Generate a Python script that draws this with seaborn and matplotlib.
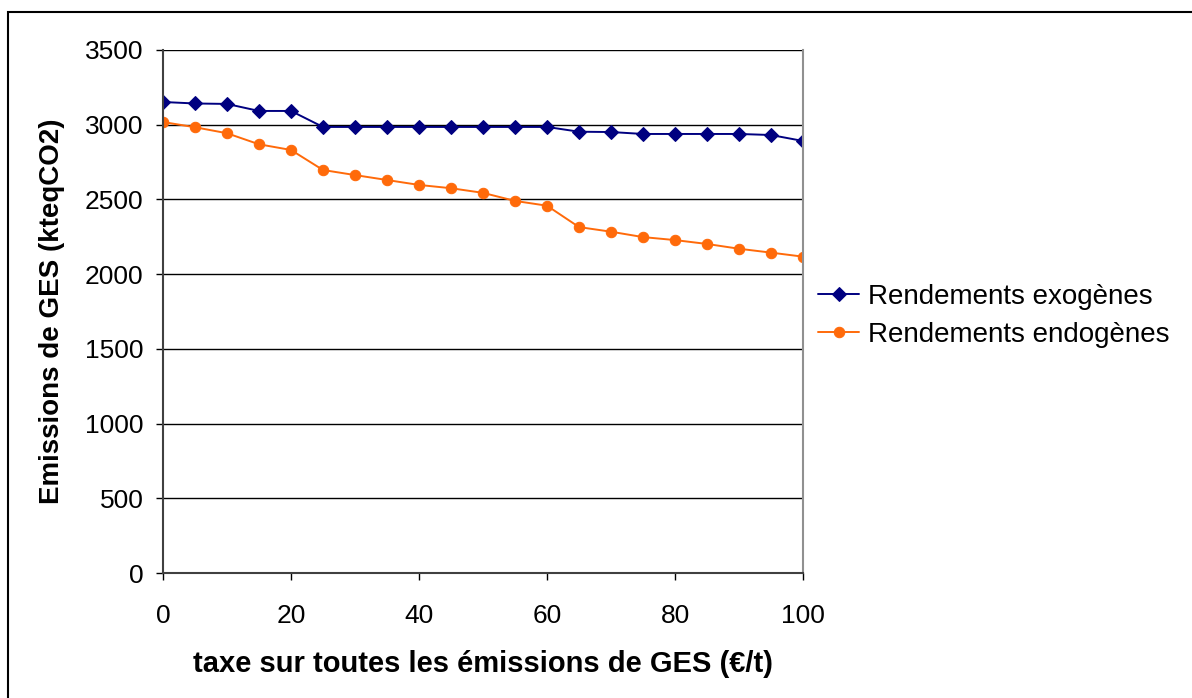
import pandas as pd
import numpy as np
import matplotlib.pyplot as plt
import seaborn as sns
from matplotlib.patches import Rectangle

taxe = [0, 5, 10, 15, 20, 25, 30, 35, 40, 45, 50, 55, 60, 65, 70, 75, 80, 85, 90, 95, 100]
exogenes = [3152, 3142, 3139, 3092, 3092, 2985, 2985, 2985, 2985, 2985, 2985, 2985, 2985,
            2953, 2951, 2938, 2938, 2938, 2938, 2931, 2891]
endogenes = [3018, 2983, 2943, 2869, 2831, 2697, 2663, 2630, 2597, 2575, 2544, 2490, 2458,
             2315, 2284, 2248, 2228, 2202, 2170, 2144, 2117]
yticks = [0, 500, 1000, 1500, 2000, 2500, 3000, 3500]
xticks = [0, 20, 40, 60, 80, 100]

sns.set_style("white")
plt.rcParams['font.family'] = ['Liberation Sans', 'DejaVu Sans']
plt.rcParams['text.color'] = 'black'
plt.rcParams['axes.labelcolor'] = 'black'
plt.rcParams['xtick.color'] = 'black'
plt.rcParams['ytick.color'] = 'black'

fig = plt.figure(figsize=(11.92, 6.98), dpi=100)
# chart frame (starts a few pixels in, runs off the right and bottom edges)
fig.add_artist(Rectangle((8 / 1192, -0.05), 1.1, 0.05 + 686 / 698, transform=fig.transFigure,
                         fill=False, edgecolor="black", linewidth=1.5))
ax = fig.add_axes([0.1367, 0.179, 0.537, 0.7494])

sns.lineplot(x=taxe, y=exogenes, ax=ax, color="#000080", marker="D", markersize=7.5,
             markeredgecolor="#000080", linewidth=1.4, label="Rendements exogènes")
sns.lineplot(x=taxe, y=endogenes, ax=ax, color="#FF6A0A", marker="o", markersize=7.5,
             markeredgecolor="#FF6A0A", linewidth=1.4, label="Rendements endogènes")

ax.set_xlim(0, 100)
ax.set_ylim(0, 3500)
ax.set_yticks(yticks)
ax.set_xticks(xticks)
ax.yaxis.grid(True, color="black", linewidth=1)
ax.set_axisbelow(True)
for s in ["left", "bottom", "right"]:
    ax.spines[s].set_linewidth(1.5)
ax.spines["left"].set_color("#404040")
ax.spines["bottom"].set_color("#404040")
ax.spines["right"].set_color("#909090")
ax.spines["top"].set_visible(False)
ax.tick_params(axis="both", direction="out", length=5, width=1, color="black",
               labelsize=19, left=True, bottom=True)
ax.tick_params(axis="x", pad=17)
ax.tick_params(axis="y", pad=9)

ax.set_xlabel("taxe sur toutes les émissions de GES (€/t)", fontsize=21,
              fontweight="bold", labelpad=16)
ax.set_ylabel("Emissions de GES (kteqCO2)", fontsize=20, fontweight="bold", labelpad=14)

ax.legend(loc="center left", bbox_to_anchor=(1.023, 0.492), frameon=False,
          fontsize=20, handlelength=1.5, handletextpad=0.3, labelspacing=0.42,
          borderaxespad=0, borderpad=0)

fig.savefig("out.png", dpi=100)
